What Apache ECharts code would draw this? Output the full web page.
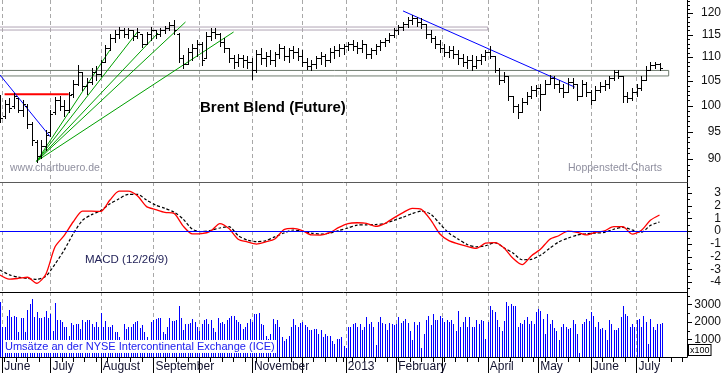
<!DOCTYPE html>
<html>
<head>
<meta charset="utf-8">
<script src="https://cdn.jsdelivr.net/npm/echarts@6/dist/echarts.min.js"></script>
<style>
html,body{margin:0;padding:0;background:#fff;}
#chart{width:723px;height:373px;}
</style>
</head>
<body>
<div id="chart"></div>
<script>
// ---------- calendar (trading days of ICE Brent) ----------
const FIRST_DAY = '2012-05-31';
const LAST_DAY = '2013-07-31';
const HOLIDAYS = ['2012-12-25', '2012-12-26', '2013-01-01', '2013-03-29'];

// month labels shown under the volume panel
const monthLabelKeys = ['2012-06','2012-07','2012-08','2012-09','2012-11','2013-01','2013-02','2013-04','2013-05','2013-06','2013-07'];
const monthLabelTexts = ['June','July','August','September','November','2013','February','April','May','June','July'];

// ---------- price (OHLC, one bar every second trading day) ----------
const PRICE_STEP = 2;
const opens = [101.71,97.97,100.31,99.92,101.51,99.14,99.92,96.45,93.09,90.56,92.36,94.94,98.75,101.11,99.92,99.14,102.31,104.35,106.84,103.94,104.76,106.84,106.42,108.96,112.00,114.23,115.14,116.05,115.14,116.05,114.68,115.14,112.89,115.14,116.05,115.14,116.05,116.51,117.20,115.14,109.82,108.53,111.12,112.00,112.89,109.82,114.68,115.59,115.14,113.34,112.00,109.82,108.96,109.82,109.39,108.96,107.26,110.69,109.82,110.25,109.39,110.69,112.00,110.25,111.56,111.12,110.25,108.96,108.11,108.53,109.82,110.25,109.39,111.12,111.56,112.00,112.45,112.89,112.45,112.00,112.89,110.69,111.56,112.45,113.34,113.78,114.91,116.05,116.74,117.43,118.36,118.82,117.89,117.43,115.14,114.23,112.89,112.00,111.12,111.56,110.69,109.82,108.96,109.39,108.11,109.39,110.25,111.12,110.25,107.26,105.17,106.00,101.91,99.92,98.75,100.71,101.91,103.12,103.53,102.31,104.35,105.59,104.35,103.53,102.72,104.76,104.35,101.91,104.35,102.72,101.11,103.12,103.94,104.35,105.59,106.84,106.00,101.91,101.51,102.72,103.53,105.17,107.26,108.32,108.53];
const highs = [102.11,101.11,101.51,102.52,101.51,101.11,100.31,96.83,93.46,93.46,95.32,99.14,101.71,101.91,101.11,102.72,105.17,108.32,106.84,105.59,107.68,108.11,109.39,112.67,115.14,116.05,116.74,116.51,116.51,116.05,116.51,115.14,115.59,116.74,116.05,116.51,116.97,117.89,118.36,115.37,110.47,112.00,112.89,113.78,113.34,115.59,116.51,116.51,115.37,114.23,112.00,110.47,110.69,110.47,110.25,109.82,111.56,112.00,111.12,111.56,111.12,112.89,112.45,112.00,112.45,112.00,111.56,109.82,109.39,110.25,111.12,110.69,112.00,112.45,112.89,112.89,113.34,113.78,113.34,113.78,112.89,112.00,112.89,113.78,114.23,115.37,116.51,117.20,117.89,119.06,119.53,119.06,118.82,117.43,116.05,114.68,113.78,112.89,112.45,112.45,111.56,110.69,110.25,110.47,110.25,110.69,111.56,112.45,110.25,107.68,106.84,106.00,101.91,100.31,101.51,102.72,103.94,104.14,104.35,105.17,106.21,106.00,105.17,104.35,105.59,105.59,104.35,105.17,104.76,103.12,103.94,104.76,105.17,106.00,107.26,107.26,106.00,102.72,103.53,104.35,106.00,108.11,108.96,108.96,108.75];
const lows = [96.83,97.59,98.75,99.53,98.75,97.97,95.69,92.54,89.50,90.20,91.63,94.20,98.36,99.14,97.97,98.75,101.71,104.14,103.12,102.31,104.35,105.17,106.00,108.96,111.56,113.34,114.23,114.46,114.23,113.78,114.23,112.23,112.89,113.78,114.23,114.68,115.37,116.05,115.14,108.96,107.68,108.53,109.39,110.25,108.32,109.82,113.78,114.23,112.45,111.12,108.96,107.68,108.11,107.89,107.68,105.38,106.84,108.53,108.11,108.53,108.11,109.82,109.39,108.96,109.82,109.39,108.11,107.47,107.26,107.68,108.53,108.11,108.96,109.82,110.25,110.69,111.56,111.56,110.90,111.12,109.82,109.82,110.69,111.56,112.45,113.34,114.46,115.14,116.05,116.74,117.43,116.97,116.51,114.23,113.34,112.00,111.12,110.25,110.04,109.82,108.53,108.11,107.68,107.26,107.68,108.53,109.39,109.82,106.84,104.35,104.76,101.11,98.75,97.59,98.75,100.31,101.51,101.91,99.14,102.31,104.35,103.53,102.72,101.71,102.72,103.53,101.11,101.91,101.91,100.31,101.11,102.72,103.12,103.53,105.17,105.59,100.71,100.71,101.11,101.91,103.12,105.17,107.26,107.68,107.26];
const closes = [97.59,100.31,99.53,101.91,99.14,100.31,96.45,93.46,90.56,92.36,94.38,98.36,101.11,99.92,99.14,102.11,104.35,106.84,103.94,104.76,106.84,106.42,108.96,112.00,114.23,115.14,116.05,115.14,116.05,114.68,115.59,112.89,115.14,116.05,115.14,116.05,116.51,117.20,116.05,109.82,108.53,111.12,112.00,112.89,109.39,114.68,115.59,115.14,113.34,112.00,109.82,108.96,109.82,109.39,108.96,107.26,110.69,109.82,110.25,109.39,110.69,112.00,110.25,111.56,111.12,110.25,108.96,108.11,108.53,109.82,110.25,109.39,111.12,111.56,112.00,112.45,112.89,112.45,112.00,112.89,110.69,111.56,112.45,113.34,113.78,114.91,116.05,116.74,117.43,118.36,118.82,117.89,117.43,115.14,114.23,112.89,112.00,111.12,111.56,110.69,109.82,108.96,109.39,108.11,109.39,110.25,111.12,110.25,107.26,105.17,106.00,101.91,99.92,98.75,100.71,101.91,103.12,103.53,102.31,104.35,105.59,104.35,103.53,102.72,104.76,104.35,101.91,104.35,102.72,101.11,103.12,103.94,104.35,105.59,106.84,106.00,101.91,101.51,102.72,103.53,105.17,107.26,108.32,108.53,107.68];

// ---------- MACD (12/26/9), one value every fourth trading day ----------
const MACD_STEP = 4;
const macdLine = [-3.46,-3.78,-3.72,-3.63,-4.10,-3.40,-1.25,-0.35,0.74,1.58,1.58,1.55,2.45,3.15,3.15,2.78,1.93,1.70,1.48,1.40,0.40,-0.22,-0.20,0.00,0.60,0.20,-0.63,-0.85,-1.02,-0.85,-0.62,0.12,0.22,0.05,-0.30,-0.31,-0.12,0.30,0.60,0.66,0.62,0.38,0.60,1.05,1.46,1.80,1.72,0.90,-0.20,-0.75,-1.00,-1.20,-1.35,-0.95,-0.90,-1.30,-2.14,-2.64,-1.95,-1.43,-0.65,-0.36,0.00,-0.10,-0.30,-0.10,0.03,0.35,0.35,-0.23,0.05,0.85,1.27];
const signalLine = [-3.06,-3.43,-3.62,-3.72,-3.79,-3.56,-2.60,-1.50,-0.20,0.85,1.30,1.62,2.15,2.55,2.90,2.90,2.45,2.05,1.80,1.50,0.95,0.15,-0.03,0.07,0.25,0.35,-0.35,-0.70,-0.82,-0.76,-0.45,-0.15,0.09,0.00,-0.15,-0.23,-0.15,0.05,0.25,0.48,0.50,0.52,0.60,0.85,1.10,1.38,1.58,1.35,0.60,-0.15,-0.62,-1.05,-1.23,-1.15,-0.90,-1.30,-1.72,-2.25,-2.22,-1.90,-1.35,-0.85,-0.55,-0.31,-0.20,-0.15,-0.10,0.15,0.30,0.10,-0.10,0.45,0.72];

// ---------- volume (x100 contracts), one value per trading day ----------
const volume2012 = [3130,1700,1700,2370,2660,2310,2370,2310,1420,2240,2240,1420,2660,3040,3330,2280,2560,2240,2240,2280,2620,2200,2470,1500,3070,2130,2130,1990,1700,1740,1200,1930,1800,1900,1900,1610,2090,1990,2090,2090,1900,1740,1990,1700,2500,1700,2050,1700,1700,1850,1420,1450,1130,900,1900,1610,1700,1700,1900,1990,2050,1650,1800,1450,1130,900,2000,2130,2190,2240,2240,1420,1340,1700,2240,2050,2050,2090,2940,2240,1560,1900,1900,1930,2190,2000,1740,1500,1900,2090,2190,1900,2130,1650,1420,2240,1930,1990,1900,2130,2240,2370,2370,2090,1990,1900,1610,1700,1930,2190,1990,2450,2450,2500,1900,1850,1210,1000,1340,2190,1900,2130,1740,1130,900,1040,1210,1700,2190,1800,1700,1930,1990,1800,1700,1560,1560,1610,1610,1340,1560,1130,1340,1210,1210,900,750,1000,1040,1130,600,500,1700,1740,1900,1930,1700];
const volume2013 = [1900,1550,1740,2310,1860,1990,1740,710,1990,2310,1950,1860,1550,1930,1900,1800,1860,2310,1930,2050,2190,1930,1460,980,1990,1800,1990,530,1340,2130,2370,1800,2450,2090,2090,2370,2200,1990,2130,1990,2130,1900,1480,2640,1740,2000,2270,1740,2270,1700,1740,2090,1900,2130,2030,1040,1990,2890,2700,2560,2090,1740,1460,2030,3130,2890,3030,2890,2940,1700,1930,1860,2100,2310,1860,2050,1860,2560,2750,2620,2190,1310,2450,1900,2130,1650,1500,980,1700,1900,1740,1610,1650,2130,1860,1340,220,1900,1990,2190,2050,2560,2370,1740,2000,1610,1650,1560,980,2090,1860,1550,1550,1650,2300,2890,2450,2370,1740,1860,1740,2130,2190,1740,2370,2000,760,2190,1740,1550,1900,1900,1930];

// ---------- chart annotations (trading-day index, price) ----------
const supportZone = [[0,107.16],[292,107.16],[292,106.0],[0,106.0]];
const resistanceZone = [[0,116.74],[213,116.74],[213,116.05],[0,116.05]];
const redLevel = [[2,102.24],[30,102.24]];
const blueTrend1 = [[0,106.2],[22,94.0]];
const blueTrend2 = [[176,120.5],[251,103.7]];
const fanOrigin = [16,89.6];
const fanEnds = [[48,111.56],[60,115.6],[69,115.37],[81,117.9],[102,115.6]];

// ---------- axis ticks / labels ----------
const priceTickValues = [87,88,89,90,91,92,93,94,95,96,97,98,99,100,101,102,103,104,105,106,107,108,109,110,111,112,113,114,115,116,117,118,119,120,121,122,123];
const priceLabelValues = [90,95,100,105,110,115,120];
const macdTickValues = [-4.5,-4,-3.5,-3,-2.5,-2,-1.5,-1,-0.5,0,0.5,1,1.5,2,2.5,3,3.5];
const macdLabelValues = [-4,-3,-2,-1,0,1,2,3];
const volumeTickValues = [500,1000,1500,2000,2500,3000,3500];
const volumeLabelValues = [1000,2000,3000];

// ---------- build calendar ----------
const tradingDays = [];
(function () {
  const hol = new Set(HOLIDAYS);
  let d = Date.parse(FIRST_DAY);
  const end = Date.parse(LAST_DAY);
  while (d <= end) {
    const dt = new Date(d);
    const wd = dt.getUTCDay();
    const s = dt.toISOString().slice(0, 10);
    if (wd !== 0 && wd !== 6 && !hol.has(s)) tradingDays.push(s);
    d += 86400000;
  }
})();
const monthStart = tradingDays.map((s, i) => i > 0 && s.slice(0, 7) !== tradingDays[i - 1].slice(0, 7));
const weekStart = tradingDays.map((s, i) => {
  if (i === 0) return false;
  const a = new Date(tradingDays[i - 1] + 'T00:00:00Z'), b = new Date(s + 'T00:00:00Z');
  return b.getUTCDay() <= a.getUTCDay() || (b - a) > 5 * 86400000;
});
function monthLabel(v) {
  const k = monthLabelKeys.indexOf(String(v).slice(0, 7));
  return k >= 0 ? monthLabelTexts[k] : '';
}

const FONT = '"Liberation Sans", Arial, Helvetica, sans-serif';
const volume = volume2012.concat(volume2013);

// ---------- helpers ----------
const monthSplit = { show: true, interval: (i) => monthStart[i], lineStyle: { color: '#a8a8a8', type: [4, 3], width: 1 } };
function baseX(gridIndex, lineColor) {
  return {
    type: 'category', gridIndex, data: tradingDays, boundaryGap: false,
    axisLine: { show: true, onZero: false, lineStyle: { color: lineColor, width: 1 } },
    axisTick: { show: false }, axisLabel: { show: false }, splitLine: monthSplit
  };
}
function baseY(gridIndex, extra) {
  return Object.assign({
    gridIndex, position: 'right',
    axisLine: { show: true, onZero: false, lineStyle: { color: '#000', width: 1 } },
    axisTick: { show: false }, axisLabel: { show: false }, splitLine: { show: false }
  }, extra);
}
function tickSeries(axisIndex, ticks, labels, majorLen, minorLen) {
  return {
    type: 'custom', xAxisIndex: axisIndex, yAxisIndex: axisIndex, clip: false, silent: true, z: 6,
    data: ticks.map(v => [0, v]), encode: { x: 0, y: 1 },
    renderItem(params, api) {
      const v = api.value(1);
      const p = api.coord([0, v]);
      const xr = params.coordSys.x + params.coordSys.width;
      const y = Math.round(p[1]) + 0.5;
      const major = labels.indexOf(v) >= 0;
      const children = [{
        type: 'line',
        shape: { x1: xr, y1: y, x2: xr + (major ? majorLen : minorLen), y2: y },
        style: { stroke: '#000', lineWidth: 1 }
      }];
      if (major) {
        children.push({
          type: 'text',
          style: { text: String(v), x: xr + 34, y: p[1], align: 'right', verticalAlign: 'middle',
                   textAlign: 'right', textVerticalAlign: 'middle', font: '12px ' + FONT, fill: '#111' }
        });
      }
      return { type: 'group', children };
    }
  };
}
function annot(data, color, width) {
  return { type: 'line', xAxisIndex: 0, yAxisIndex: 0, data, symbol: 'none', silent: true, z: 1,
           lineStyle: { color, width }, animation: false };
}

const priceData = opens.map((o, j) => [j * PRICE_STEP, o, highs[j], lows[j], closes[j]]);
const macdData = macdLine.map((v, j) => [j * MACD_STEP, v]);
const signalData = signalLine.map((v, j) => [j * MACD_STEP, v]);
const volumeData = volume.map((v, i) => [i, v]);

const series = [
  annot(resistanceZone, '#b0a4b4', 1),
  annot(supportZone, '#6f7c6f', 1),
  annot(redLevel, '#ff0000', 2),
  annot(blueTrend1, '#0000ff', 1),
  annot(blueTrend2, '#0000ff', 1),
  ...fanEnds.map(e => annot([fanOrigin, e], '#00a000', 1)),
  {
    type: 'custom', xAxisIndex: 0, yAxisIndex: 0, z: 3, silent: true,
    data: priceData, encode: { x: 0, y: [1, 2, 3, 4] },
    renderItem(params, api) {
      const idx = api.value(0);
      const o = api.coord([idx, api.value(1)]);
      const h = api.coord([idx, api.value(2)]);
      const l = api.coord([idx, api.value(3)]);
      const c = api.coord([idx, api.value(4)]);
      const x = Math.round(h[0]) + 0.5;
      const yo = Math.round(o[1]) + 0.5, yc = Math.round(c[1]) + 0.5;
      const st = { stroke: '#000', lineWidth: 1 };
      return { type: 'group', children: [
        { type: 'line', shape: { x1: x, y1: Math.round(h[1]), x2: x, y2: Math.round(l[1]) + 1 }, style: st },
        { type: 'line', shape: { x1: x - 2.5, y1: yo, x2: x, y2: yo }, style: st },
        { type: 'line', shape: { x1: x, y1: yc, x2: x + 2.5, y2: yc }, style: st }
      ] };
    }
  },
  tickSeries(0, priceTickValues, priceLabelValues, 6, 3),
  {
    type: 'line', xAxisIndex: 1, yAxisIndex: 1, data: macdData, symbol: 'none', smooth: 0.25, silent: true, z: 4,
    lineStyle: { color: '#ff0000', width: 1.3 },
    markLine: { symbol: ['none', 'none'], silent: true, label: { show: false }, animation: false,
                lineStyle: { color: '#0000ff', width: 1, type: 'solid' }, data: [{ yAxis: 0 }] }
  },
  {
    type: 'line', xAxisIndex: 1, yAxisIndex: 1, data: signalData, symbol: 'none', smooth: 0.25, silent: true, z: 3,
    lineStyle: { color: '#000', width: 1.2, type: [3, 2] }
  },
  tickSeries(1, macdTickValues, macdLabelValues, 5, 3),
  {
    type: 'custom', xAxisIndex: 2, yAxisIndex: 2, silent: true, z: 3,
    data: volumeData, encode: { x: 0, y: 1 },
    renderItem(params, api) {
      const top = api.coord([api.value(0), api.value(1)]);
      const base = api.coord([api.value(0), 0]);
      const x = Math.round(top[0]) + 0.5;
      return { type: 'line', shape: { x1: x, y1: Math.round(base[1]), x2: x, y2: Math.round(top[1]) },
               style: { stroke: '#0000ff', lineWidth: 1 } };
    }
  },
  tickSeries(2, volumeTickValues, volumeLabelValues, 5, 3)
];

const chart = echarts.init(document.getElementById('chart'), null, { renderer: 'canvas' });
chart.setOption({
  animation: false,
  backgroundColor: '#fff',
  textStyle: { fontFamily: FONT },
  grid: [
    { left: 0, right: 36, top: 0, height: 182, outerBoundsMode: 'none', containLabel: false },
    { left: 0, right: 36, top: 182, height: 110, outerBoundsMode: 'none', containLabel: false },
    { left: 0, right: 36, top: 292, height: 65, outerBoundsMode: 'none', containLabel: false },
    { left: 0, right: 36, top: 292, height: 65, outerBoundsMode: 'none', containLabel: false }
  ],
  xAxis: [
    baseX(0, '#5a5a5a'),
    baseX(1, '#000'),
    Object.assign(baseX(2, '#000'), {
      axisTick: { show: true, interval: (i) => weekStart[i], length: 5, lineStyle: { color: '#000', width: 1 } }
    }),
    {
      type: 'category', gridIndex: 3, data: tradingDays, boundaryGap: false,
      axisLine: { show: false, onZero: false },
      axisTick: { show: true, interval: (i) => monthStart[i], length: 16, lineStyle: { color: '#000', width: 1 } },
      axisLabel: { show: true, interval: (i) => monthStart[i], formatter: (v) => monthLabel(v),
                   align: 'left', margin: 4, fontSize: 12, fontFamily: FONT, color: '#141430', padding: [0, 0, 0, 2] },
      splitLine: { show: false }
    }
  ],
  yAxis: [
    baseY(0, { type: 'log', logBase: 10, min: 86.0, max: 123.13 }),
    baseY(1, { type: 'value', min: -4.79, max: 3.87 }),
    baseY(2, { type: 'value', min: 0, max: 3714 }),
    { type: 'value', gridIndex: 3, min: 0, max: 1, show: false }
  ],
  series,
  graphic: [
    { type: 'text', x: 200, y: 108, z: 100, silent: true,
      style: { text: 'Brent Blend (Future)', font: 'bold 15px ' + FONT, fill: '#000', verticalAlign: 'middle', textVerticalAlign: 'middle' } },
    { type: 'text', x: 10, y: 168, z: 100, silent: true,
      style: { text: 'www.chartbuero.de', font: '10.5px ' + FONT, fill: '#8f8f9f', verticalAlign: 'middle', textVerticalAlign: 'middle' } },
    { type: 'text', x: 568, y: 168, z: 100, silent: true,
      style: { text: 'Hoppenstedt-Charts', font: '10.5px ' + FONT, fill: '#8f8f9f', verticalAlign: 'middle', textVerticalAlign: 'middle' } },
    { type: 'text', x: 85, y: 260, z: 100, silent: true,
      style: { text: 'MACD (12/26/9)', font: '11.5px ' + FONT, fill: '#24245a', verticalAlign: 'middle', textVerticalAlign: 'middle' } },
    { type: 'text', x: 3, y: 340, z: 100, silent: true,
      style: { text: 'Umsätze an der NYSE Intercontinental Exchange (ICE)', font: '11px ' + FONT, fill: '#2020f0',
               backgroundColor: '#fff', padding: [1, 2, 1, 2], lineHeight: 11 } },
    { type: 'text', x: 689, y: 345, z: 100, silent: true,
      style: { text: 'x100', font: '9px ' + FONT, fill: '#000', backgroundColor: '#fff',
               borderColor: '#000', borderWidth: 1, padding: [1, 1, 0, 1], lineHeight: 9 } }
  ]
});
</script>
</body>
</html>
